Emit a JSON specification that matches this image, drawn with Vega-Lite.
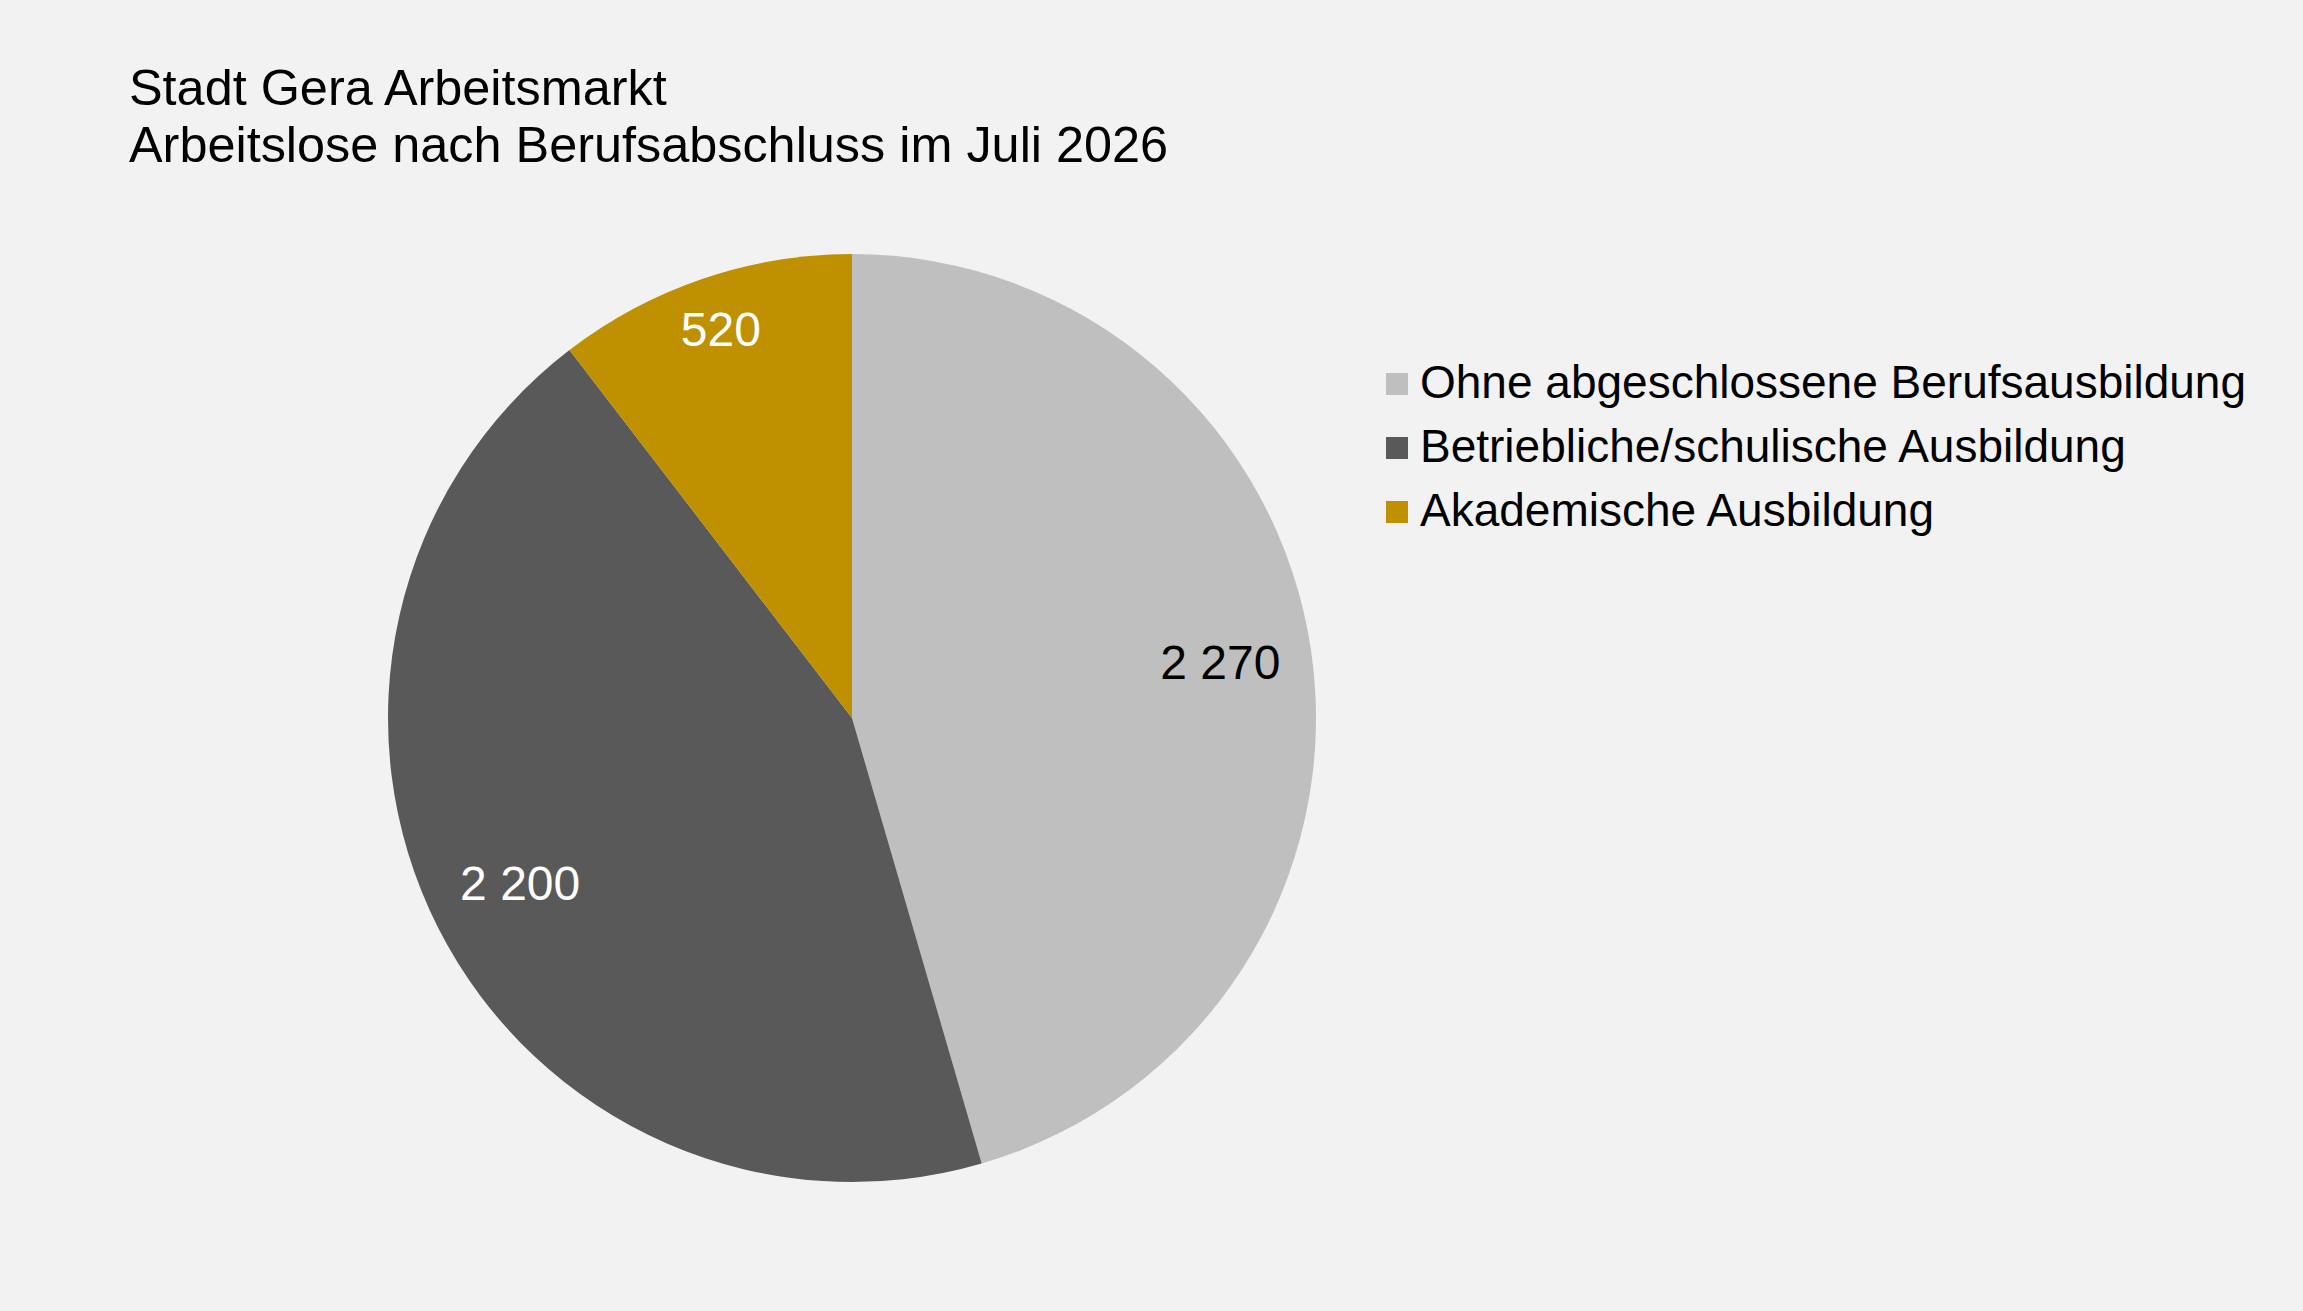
{
  "$schema": "https://vega.github.io/schema/vega-lite/v6.json",
  "autosize": {"type": "none"},
  "padding": {"left": 388, "top": 254, "right": 987, "bottom": 129},
  "width": 928,
  "height": 928,
  "background": "#f2f2f2",
  "title": {
    "text": ["Stadt Gera Arbeitsmarkt", "Arbeitslose nach Berufsabschluss im Juli 2026"],
    "anchor": "start",
    "font": "Liberation Sans",
    "fontSize": 50.4,
    "fontWeight": "normal",
    "color": "#000000",
    "lineHeight": 57,
    "dx": -259,
    "offset": 82
  },
  "data": {
    "values": [
      {"Kategorie": "Ohne abgeschlossene Berufsausbildung", "Arbeitslose": 2270},
      {"Kategorie": "Betriebliche/schulische Ausbildung", "Arbeitslose": 2200},
      {"Kategorie": "Akademische Ausbildung", "Arbeitslose": 520}
    ]
  },
  "encoding": {
    "theta": {"field": "Arbeitslose", "type": "quantitative", "stack": true},
    "order": {"field": "Kategorie", "type": "ordinal", "sort": "descending"}
  },
  "layer": [
    {
      "mark": {"type": "arc", "outerRadius": 464},
      "encoding": {
        "color": {
          "field": "Kategorie",
          "type": "nominal",
          "scale": {
            "domain": ["Ohne abgeschlossene Berufsausbildung", "Betriebliche/schulische Ausbildung", "Akademische Ausbildung"],
            "range": ["#bfbfbf", "#595959", "#bf9000"]
          },
          "legend": {
            "title": null,
            "orient": "none",
            "legendX": 986,
            "legendY": 107,
            "symbolType": "square",
            "symbolSize": 484,
            "symbolStrokeWidth": 0,
            "labelFont": "Liberation Sans",
            "labelFontSize": 46,
            "labelColor": "#000000",
            "labelOffset": 0,
            "labelLimit": 1000,
            "rowPadding": 18,
            "padding": 0
          }
        }
      }
    },
    {
      "mark": {
        "type": "text",
        "radius": {"expr": "datum.Kategorie === 'Akademische Ausbildung' ? 408 : 372"},
        "font": "Liberation Sans",
        "fontSize": 48
      },
      "encoding": {
        "detail": {"field": "Kategorie", "type": "nominal"},
        "text": {"field": "Arbeitslose", "type": "quantitative", "format": ",d"},
        "color": {
          "condition": {"test": "datum.Kategorie === 'Ohne abgeschlossene Berufsausbildung'", "value": "#000000"},
          "value": "#ffffff"
        }
      }
    }
  ],
  "config": {
    "view": {"stroke": null},
    "locale": {
      "number": {"decimal": ",", "thousands": " ", "grouping": [3], "currency": ["", " €"]}
    }
  }
}
